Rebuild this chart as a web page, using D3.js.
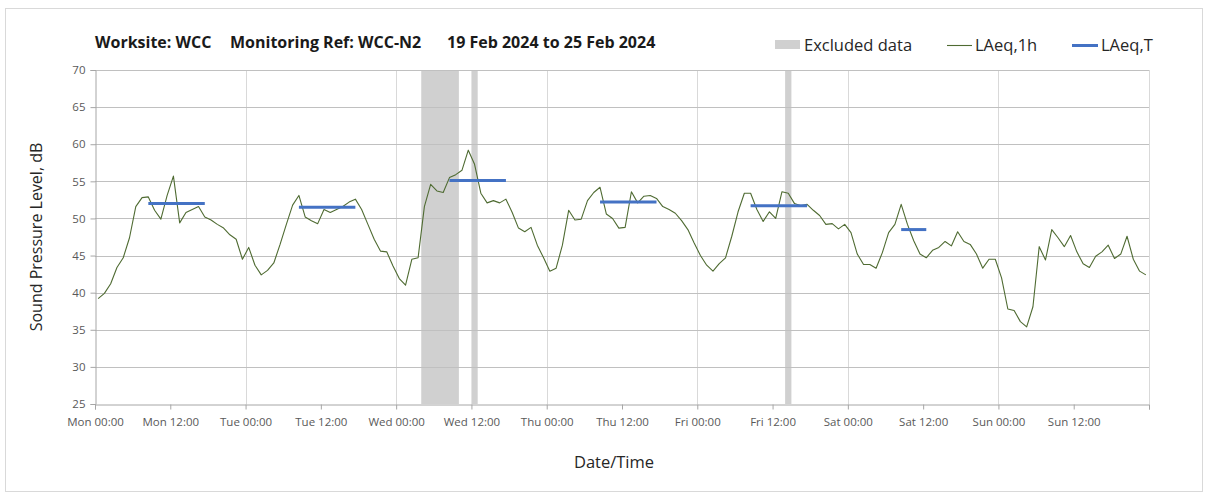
<!DOCTYPE html>
<html>
<head>
<meta charset="utf-8">
<script src="https://cdn.jsdelivr.net/npm/d3@7/dist/d3.min.js"></script>
<style>
  html, body { margin: 0; padding: 0; background: #ffffff; }
  svg { display: block; font-family: "Open Sans", "Noto Sans", sans-serif; }
</style>
</head>
<body>
<svg id="chart" width="1208" height="496"></svg>
<script>
// Hourly LAeq,1h readings, Mon 19 Feb 2024 00:00 onwards (one value per hour)
const startTime = "2024-02-19T00:00:00Z";
const endTime = "2024-02-26T00:00:00Z";
const laeq1h = [
  39.2, 39.9, 41.2, 43.4, 44.7, 47.4, 51.6, 52.8, 52.9, 51.1, 49.9, 53.1,
  55.7, 49.4, 50.8, 51.2, 51.6, 50.2, 49.8, 49.2, 48.7, 47.8, 47.2, 44.5,
  46.1, 43.7, 42.4, 43.0, 44.0, 46.5, 49.2, 51.8, 53.1, 50.2, 49.7, 49.3,
  51.2, 50.8, 51.2, 51.6, 52.2, 52.6, 51.2, 49.2, 47.2, 45.6, 45.5, 43.6,
  41.9, 41.0, 44.5, 44.7, 51.6, 54.6, 53.7, 53.5, 55.5, 55.9, 56.5, 59.2,
  57.3, 53.4, 52.1, 52.4, 52.1, 52.6, 50.8, 48.7, 48.2, 48.8, 46.4, 44.7,
  42.9, 43.3, 46.4, 51.1, 49.8, 49.9, 52.4, 53.5, 54.2, 50.6, 50.0, 48.7,
  48.8, 53.6, 52.1, 53.0, 53.1, 52.7, 51.6, 51.2, 50.7, 49.7, 48.5, 46.7,
  45.0, 43.7, 42.9, 43.9, 44.7, 47.6, 50.9, 53.4, 53.4, 51.2, 49.6, 50.9,
  50.0, 53.6, 53.4, 52.0, 51.7, 51.9, 51.1, 50.4, 49.2, 49.3, 48.6, 49.2,
  48.1, 45.2, 43.8, 43.8, 43.3, 45.4, 48.1, 49.2, 51.9, 49.2, 47.0, 45.2,
  44.7, 45.7, 46.1, 46.9, 46.3, 48.2, 46.9, 46.5, 45.2, 43.3, 44.5, 44.5,
  42.0, 37.8, 37.6, 36.1, 35.4, 38.1, 46.2, 44.4, 48.5, 47.4, 46.2, 47.7,
  45.5, 43.9, 43.4, 44.9, 45.5, 46.4, 44.6, 45.2, 47.6, 44.5, 42.9, 42.4
];

// Daytime LAeq,T periods (start, end, level)
const laeqTStart = ["2024-02-19T08:30:00Z", "2024-02-20T08:30:00Z", "2024-02-21T08:30:00Z",
                    "2024-02-22T08:30:00Z", "2024-02-23T08:30:00Z", "2024-02-24T08:30:00Z"];
const laeqTEnd   = ["2024-02-19T17:30:00Z", "2024-02-20T17:30:00Z", "2024-02-21T17:30:00Z",
                    "2024-02-22T17:30:00Z", "2024-02-23T17:30:00Z", "2024-02-24T12:30:00Z"];
const laeqTValue = [52.0, 51.5, 55.1, 52.2, 51.7, 48.5];

// Periods excluded from the assessment
const excludedStart = ["2024-02-21T04:00:00Z", "2024-02-21T12:00:00Z", "2024-02-23T14:00:00Z"];
const excludedEnd   = ["2024-02-21T10:00:00Z", "2024-02-21T13:00:00Z", "2024-02-23T15:00:00Z"];

// Axis ticks
const yTicks = [25, 30, 35, 40, 45, 50, 55, 60, 65, 70];
const xTickLabels = ["Mon 00:00", "Mon 12:00", "Tue 00:00", "Tue 12:00", "Wed 00:00", "Wed 12:00",
                     "Thu 00:00", "Thu 12:00", "Fri 00:00", "Fri 12:00", "Sat 00:00", "Sat 12:00",
                     "Sun 00:00", "Sun 12:00", ""];

const titleParts = ["Worksite: WCC", "Monitoring Ref: WCC-N2", "19 Feb 2024 to 25 Feb 2024"];

const svg = d3.select("#chart");
const W = 1208, H = 496;
const plot = { left: 95, right: 1149, top: 70, bottom: 404 };

const t0 = new Date(startTime);
const hour = 3600 * 1000;

const x = d3.scaleUtc()
  .domain([t0, new Date(endTime)])
  .range([plot.left, plot.right]);
const y = d3.scaleLinear()
  .domain([25, 70])
  .range([plot.bottom, plot.top]);

// chart frame
svg.append("rect")
  .attr("x", 5.5).attr("y", 8.5).attr("width", W - 11).attr("height", H - 13)
  .attr("fill", "#fff").attr("stroke", "#d9d9d9").attr("stroke-width", 1);

// excluded bands
const excluded = excludedStart.map((s, i) => ({ s: new Date(s), e: new Date(excludedEnd[i]) }));
svg.append("g").selectAll("rect").data(excluded).join("rect")
  .attr("x", d => x(d.s))
  .attr("width", d => x(d.e) - x(d.s))
  .attr("y", plot.top)
  .attr("height", plot.bottom - plot.top)
  .attr("fill", "#d0d0d0");

// gridlines
const xTickDates = d3.range(0, 15).map(i => new Date(t0.getTime() + i * 12 * hour));
const dayDates = d3.range(1, 8).map(i => new Date(t0.getTime() + i * 24 * hour));
svg.append("g").selectAll("line").data(dayDates).join("line")
  .attr("x1", d => Math.round(x(d)) + 0.5).attr("x2", d => Math.round(x(d)) + 0.5)
  .attr("y1", plot.top).attr("y2", plot.bottom)
  .attr("stroke", "#d9d9d9").attr("stroke-width", 1);
svg.append("g").selectAll("line").data(yTicks.slice(1)).join("line")
  .attr("x1", plot.left).attr("x2", plot.right)
  .attr("y1", d => Math.round(y(d)) + 0.5).attr("y2", d => Math.round(y(d)) + 0.5)
  .attr("stroke", "#c0c0c0").attr("stroke-width", 1);

// axes
const xAxis = d3.axisBottom(x)
  .tickValues(xTickDates)
  .tickSize(5)
  .tickFormat((d, i) => xTickLabels[i]);
const gx = svg.append("g")
  .attr("transform", `translate(0,${Math.round(plot.bottom) + 0.5})`)
  .call(xAxis);
const yAxis = d3.axisLeft(y).tickValues(yTicks).tickSize(5).tickFormat(d3.format("d"));
const gy = svg.append("g")
  .attr("transform", `translate(${plot.left + 0.5},0)`)
  .call(yAxis);
[gx, gy].forEach(g => {
  g.select(".domain").attr("stroke", "#a6a6a6");
  g.selectAll(".tick line").attr("stroke", "#a6a6a6");
  g.selectAll(".tick text")
    .attr("fill", "#595959")
    .style("font-size", "11.5px")
    .style("font-family", "'Open Sans', sans-serif");
});
gx.selectAll(".tick text").attr("dy", "0").attr("y", 21);
gy.selectAll(".tick text").attr("x", -10);

// LAeq,1h line
const series = laeq1h.map((v, i) => ({ t: new Date(t0.getTime() + (i + 0.5) * hour), v }));
svg.append("path")
  .datum(series)
  .attr("fill", "none")
  .attr("stroke", "#4f6b32")
  .attr("stroke-width", 1.1)
  .attr("stroke-linejoin", "round")
  .attr("d", d3.line().x(d => x(d.t)).y(d => y(d.v)));

// LAeq,T segments
const periods = laeqTStart.map((s, i) => ({ s: new Date(s), e: new Date(laeqTEnd[i]), v: laeqTValue[i] }));
svg.append("g").selectAll("line").data(periods).join("line")
  .attr("x1", d => x(d.s)).attr("x2", d => x(d.e))
  .attr("y1", d => y(d.v)).attr("y2", d => y(d.v))
  .attr("stroke", "#4472c4")
  .attr("stroke-width", 3);

// title
const titleX = [95, 230, 447];
svg.append("g").selectAll("text").data(titleParts).join("text")
  .attr("x", (d, i) => titleX[i])
  .attr("y", 48)
  .attr("fill", "#1a1a1a")
  .style("font-size", "16px")
  .style("font-weight", "bold")
  .text(d => d);

// legend
const legend = svg.append("g").style("font-size", "16.5px").attr("fill", "#262626");
legend.append("rect").attr("x", 775).attr("y", 40).attr("width", 25).attr("height", 9).attr("fill", "#d0d0d0");
legend.append("text").attr("x", 804).attr("y", 51).text("Excluded data");
legend.append("line").attr("x1", 947).attr("x2", 972).attr("y1", 45.5).attr("y2", 45.5)
  .attr("stroke", "#4f6b32").attr("stroke-width", 1.1);
legend.append("text").attr("x", 975).attr("y", 51).text("LAeq,1h");
legend.append("line").attr("x1", 1072).attr("x2", 1098).attr("y1", 45.5).attr("y2", 45.5)
  .attr("stroke", "#4472c4").attr("stroke-width", 3);
legend.append("text").attr("x", 1101).attr("y", 51).text("LAeq,T");

// axis titles
svg.append("text")
  .attr("transform", `translate(42,${(plot.top + plot.bottom) / 2}) rotate(-90)`)
  .attr("text-anchor", "middle")
  .attr("fill", "#262626")
  .style("font-size", "16px")
  .text("Sound Pressure Level, dB");
svg.append("text")
  .attr("x", 614).attr("y", 468)
  .attr("text-anchor", "middle")
  .attr("fill", "#262626")
  .style("font-size", "16.5px")
  .text("Date/Time");
</script>
</body>
</html>
